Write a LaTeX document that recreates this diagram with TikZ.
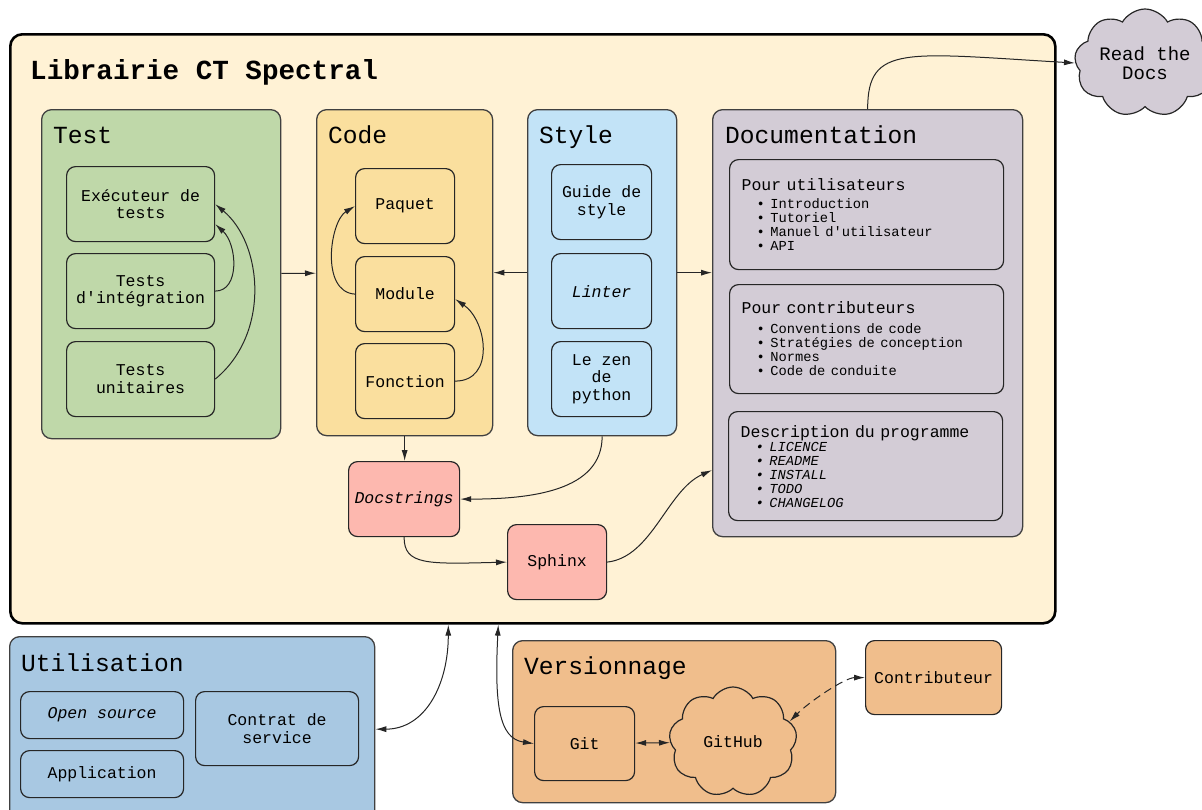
\documentclass[tikz,border=0pt]{standalone}
\usepackage{fontspec}
\setmonofont{Liberation Mono}
\renewcommand{\familydefault}{\ttdefault}
\usetikzlibrary{arrows.meta,shapes.symbols}

\definecolor{creme}{HTML}{FFF2D5}
\definecolor{vert}{HTML}{BFD8A9}
\definecolor{jaune}{HTML}{FADF9E}
\definecolor{bleuclair}{HTML}{C2E3F7}
\definecolor{lilas}{HTML}{D3CCD6}
\definecolor{rose}{HTML}{FDB8AF}
\definecolor{bleu}{HTML}{A8C8E2}
\definecolor{peche}{HTML}{F0BE8C}

\newcommand{\docfont}{\fontsize{13.75}{14}\selectfont}
\newcommand{\itm}{\hspace*{15pt}\textbullet\ }

\begin{document}
\begin{tikzpicture}[
    x=1pt,
    y=-1pt,
    >={Latex[length=11pt,width=6pt]},
    grp/.style={
        draw=black!75,
        line width=1.3pt,
        rounded corners=10pt,
        anchor=north west
    },
    box/.style={
        draw=black!85,
        line width=1.2pt,
        rounded corners=9pt,
        anchor=north west,
        align=center,
        font=\fontsize{16.5}{17.5}\selectfont
    },
    sub/.style={
        box,
        align=left,
        text width=250pt,
        inner sep=12pt
    },
    head/.style={
        anchor=base west,
        inner sep=0pt,
        font=\fontsize{24.6}{28}\selectfont
    },
    cloudy/.style={
        cloud,
        cloud puffs=9,
        cloud puff arc=120,
        cloud ignores aspect,
        draw=black!85,
        line width=1.2pt,
        align=center
    },
    arrow/.style={
        ->,
        line width=1pt,
        draw=black!85
    }
]
    \useasboundingbox (0,0) rectangle (1202,809);

    % Cadre principal
    \node[grp, draw=black, line width=2.6pt, rounded corners=12pt, fill=creme,
          minimum width=1045, minimum height=589] (lib) at (9,33) {};
    \node[head, font=\fontsize{27.6}{30}\selectfont\bfseries] (titre) at (30,79) {Librairie CT Spectral};

    % Groupes
    \node[grp, fill=vert, minimum width=239, minimum height=329] (test) at (41,109) {};
    \node[grp, fill=jaune, minimum width=176, minimum height=326] (code) at (316,109) {};
    \node[grp, fill=bleuclair, minimum width=149, minimum height=326] (style) at (527,109) {};
    \node[grp, fill=lilas, minimum width=310, minimum height=427] (doc) at (712,109) {};
    \node[grp, fill=bleu, minimum width=365, minimum height=185] (util) at (9,636) {};
    \node[grp, fill=peche, minimum width=323, minimum height=162] (vers) at (512,640) {};

    \node[head] (testlbl) at (53,143) {Test};
    \node[head] (codelbl) at (328,143) {Code};
    \node[head] (stylelbl) at (539,143) {Style};
    \node[head] (doclbl) at (725,143) {Documentation};
    \node[head] (utillbl) at (21,671) {Utilisation};
    \node[head] (verslbl) at (524,674) {Versionnage};

    % Test
    \node[box, fill=vert, minimum width=148, minimum height=75] (exec) at (66,166) {Exécuteur de\\tests};
    \node[box, fill=vert, minimum width=148, minimum height=75] (integ) at (66,253) {Tests\\d'intégration};
    \node[box, fill=vert, minimum width=148, minimum height=75] (unit) at (66,341) {Tests\\unitaires};

    % Code
    \node[box, fill=jaune, minimum width=99, minimum height=75] (paquet) at (355,168) {Paquet};
    \node[box, fill=jaune, minimum width=99, minimum height=75] (module) at (355,256) {Module};
    \node[box, fill=jaune, minimum width=99, minimum height=75] (fonction) at (355,343) {Fonction};

    % Style
    \node[box, fill=bleuclair, minimum width=100, minimum height=75] (guide) at (551,164) {Guide de\\style};
    \node[box, fill=bleuclair, minimum width=100, minimum height=75] (linter) at (551,253) {\textit{Linter}};
    \node[box, fill=bleuclair, minimum width=100, minimum height=75] (zen) at (551,341) {Le zen\\de\\python};

    % Documentation
    \node[sub, fill=lilas, minimum height=110] (users) at (729,159) {Pour utilisateurs\par\vspace{4pt}
        {\docfont\itm Introduction\\\itm Tutoriel\\\itm Manuel d'utilisateur\\\itm API\par}};
    \node[sub, fill=lilas, minimum height=109] (contribs) at (729,284) {Pour contributeurs\par\vspace{6pt}
        {\docfont\itm Conventions de code\\\itm Stratégies de conception\\\itm Normes\\\itm Code de conduite\par}};
    \node[sub, fill=lilas, minimum height=109] (descr) at (728,411) {Description du programme\par\vspace{0pt}
        {\docfont\itshape\itm LICENCE\\\itm README\\\itm INSTALL\\\itm TODO\\\itm CHANGELOG\par}};

    % Docstrings et Sphinx
    \node[box, fill=rose, minimum width=111, minimum height=75] (docstr) at (348,461) {\textit{Docstrings}};
    \node[box, fill=rose, minimum width=99, minimum height=75] (sphinx) at (507,524) {Sphinx};

    % Utilisation
    \node[box, fill=bleu, minimum width=163, minimum height=47] (opensrc) at (20,691) {\textit{Open source}};
    \node[box, fill=bleu, minimum width=163, minimum height=47] (appli) at (20,750) {Application};
    \node[box, fill=bleu, minimum width=163, minimum height=74] (contrat) at (195,691) {Contrat de\\service};

    % Versionnage
    \node[box, fill=peche, minimum width=100, minimum height=74] (git) at (534,706) {Git};
    \node[cloudy, fill=peche, minimum width=128, minimum height=110, font=\fontsize{16.5}{17.5}\selectfont] (github) at (733,742) {GitHub};
    \node[box, fill=peche, minimum width=136, minimum height=74] (contrib) at (865,640) {Contributeur};

    \node[cloudy, fill=lilas, minimum width=134, minimum height=108, font=\fontsize{19}{19}\selectfont] (rtd) at (1145,63) {Read the\\Docs};

    % Liaisons
    \draw[arrow] (test) -- (code);
    \draw[arrow] (style) -- (code);
    \draw[arrow] (style.east) -- (style.east -| doc.west);
    \draw[arrow] (integ.east) .. controls +(25,0) and +(22,20) .. ([yshift=-20pt]exec.east);
    \draw[arrow] (unit.east) .. controls +(55,-45) and +(48,40) .. (exec.east);
    \draw[arrow] (module.west) .. controls +(-35,-2) and +(-25,15) .. (paquet.west);
    \draw[arrow] (fonction.east) .. controls +(40,0) and +(32,22) .. ([yshift=-5pt]module.east);
    \draw[arrow] (code.south) -- (code.south |- docstr.north);
    \draw[arrow] (style.south) .. controls +(0,55) and +(70,0) .. (docstr.east);
    \draw[arrow] (docstr.south) .. controls +(0,28) and +(-80,2) .. (sphinx.west);
    \draw[arrow] (sphinx.east) .. controls +(45,-5) and +(-45,20) .. ([yshift=-147pt]doc.west);
    \draw[arrow] (doc.north) .. controls +(0,-65) and +(-170,-10) .. (rtd.west);
    \draw[arrow, <->] (util.east) .. controls +(50,0) and +(0,60) .. ([xshift=-84.5pt]lib.south);
    \draw[arrow, <->] ([xshift=-34.5pt]lib.south) .. controls +(-4,80) and +(-35,-5) .. (git.west);
    \draw[arrow, <->] (git) -- (github);
    \draw[arrow, <->, dash pattern=on 8pt off 5pt] (contrib.west) .. controls +(-20,0) and +(20,-20) .. (github.20);

\end{tikzpicture}
\end{document}
